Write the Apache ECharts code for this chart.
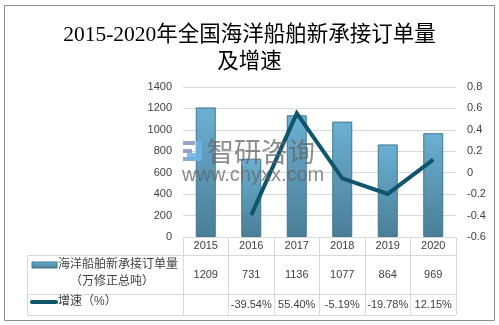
<!DOCTYPE html>
<html>
<head>
<meta charset="utf-8">
<script src="https://cdn.jsdelivr.net/npm/echarts@6/dist/echarts.min.js"></script>
<style>
  html, body { margin: 0; padding: 0; background: #fff; }
  #chart { width: 499px; height: 325px; }
</style>
</head>
<body>
<div id="chart"></div>
<script>
// Years shown along the category axis / table header
const years = ['2015', '2016', '2017', '2018', '2019', '2020'];
// New orders for sea-going vessels (10k CGT)
const orders = [1209, 731, 1136, 1077, 864, 969];
// Year-on-year growth in percent (none for the first year)
const growth = [null, -39.54, 55.40, -5.19, -19.78, 12.15];

const leftTicks = { min: 0, max: 1400, interval: 200 };
const rightTicks = { min: -0.6, max: 0.8, interval: 0.2 };

const titleText = '2015-2020年全国海洋船舶新承接订单量\n及增速';
const barName = '海洋船舶新承接订单量';
const barUnit = '（万修正总吨）';
const lineName = '增速（%）';

const gridColor = '#d9d9d9';
const textColor = '#404040';
const lineColor = '#0f566d';
const sans = '"Liberation Sans", "Noto Sans CJK SC", sans-serif';

const chart = echarts.init(document.getElementById('chart'), null, { renderer: 'canvas' });

const growthRatio = growth.map(v => (v == null ? null : v / 100));
const growthText = growth.map(v => (v == null ? '' : v.toFixed(2) + '%'));
const orderText = orders.map(v => String(v));

function rowAxis(labels, offset) {
  return {
    type: 'category',
    data: labels,
    position: 'bottom',
    offset: offset,
    axisLine: { show: false },
    axisTick: { show: false },
    axisLabel: {
      margin: 0, color: textColor, fontSize: 11, fontFamily: sans,
      lineHeight: 14, interval: 0
    }
  };
}

const barFill = () => new echarts.graphic.LinearGradient(0, 0, 0, 1, [
  { offset: 0, color: '#6bb0d3' },
  { offset: 1, color: '#4a7e96' }
]);

const option = {
  backgroundColor: '#fff',
  animation: false,
  title: {
    text: titleText,
    left: 'center',
    top: 17,
    textStyle: {
      fontFamily: '"Liberation Serif", "Noto Sans CJK SC", serif',
      fontSize: 21.5, fontWeight: 'normal', color: '#000', lineHeight: 27
    }
  },
  grid: { left: 183, right: 43, top: 87, bottom: 88 },
  xAxis: [
    {
      type: 'category',
      data: years,
      axisLine: { lineStyle: { color: gridColor } },
      axisTick: { show: true, length: 78, lineStyle: { color: gridColor } },
      axisLabel: { margin: 2, color: textColor, fontSize: 11, fontFamily: sans, lineHeight: 14 }
    },
    rowAxis(orderText, 30.5),
    rowAxis(growthText, 60.5)
  ],
  yAxis: [
    {
      type: 'value',
      min: leftTicks.min, max: leftTicks.max, interval: leftTicks.interval,
      axisLine: { show: false },
      axisTick: { show: false },
      splitLine: { lineStyle: { color: gridColor } },
      axisLabel: { margin: 11, color: textColor, fontSize: 11, fontFamily: sans,
                   formatter: v => String(v) }
    },
    {
      type: 'value',
      min: rightTicks.min, max: rightTicks.max, interval: rightTicks.interval,
      axisLine: { show: false },
      axisTick: { show: false },
      splitLine: { show: false },
      axisLabel: {
        margin: 11, color: textColor, fontSize: 11, fontFamily: sans,
        formatter: v => String(+v.toFixed(1))
      }
    }
  ],
  series: [
    {
      name: barName,
      type: 'bar',
      data: orders,
      barWidth: 20,
      itemStyle: { color: barFill(), borderColor: '#41768e', borderWidth: 1 }
    },
    {
      name: lineName,
      type: 'line',
      yAxisIndex: 1,
      data: growthRatio,
      showSymbol: false,
      symbol: 'none',
      lineStyle: { color: lineColor, width: 4, join: 'miter' },
      z: 5
    }
  ],
  graphic: [
    // outer frame
    { type: 'rect', shape: { x: 4.5, y: 5.5, width: 490, height: 315 },
      style: { fill: 'none', stroke: '#8c8c8c', lineWidth: 1 }, silent: true },
    // data table rules
    { type: 'line', shape: { x1: 27, y1: 255.5, x2: 456, y2: 255.5 }, style: { stroke: gridColor, lineWidth: 1 } },
    { type: 'line', shape: { x1: 27, y1: 294.5, x2: 456, y2: 294.5 }, style: { stroke: gridColor, lineWidth: 1 } },
    { type: 'line', shape: { x1: 27, y1: 315.5, x2: 456, y2: 315.5 }, style: { stroke: gridColor, lineWidth: 1 } },
    { type: 'line', shape: { x1: 27.5, y1: 255, x2: 27.5, y2: 316 }, style: { stroke: gridColor, lineWidth: 1 } },
    // table row keys
    { type: 'rect', shape: { x: 32, y: 262, width: 25, height: 6 },
      style: { fill: barFill(), stroke: '#41768e', lineWidth: 1 } },
    { type: 'line', shape: { x1: 32, y1: 302, x2: 56, y2: 302 },
      style: { stroke: lineColor, lineWidth: 4, lineCap: 'round' } },
    { type: 'text', x: 58, y: 265,
      style: { text: barName, fill: textColor, fontSize: 12, fontFamily: sans, verticalAlign: 'middle' } },
    { type: 'text', x: 112, y: 282,
      style: { text: barUnit, fill: textColor, fontSize: 12, fontFamily: sans,
               align: 'center', verticalAlign: 'middle' } },
    { type: 'text', x: 58, y: 302,
      style: { text: lineName, fill: textColor, fontSize: 12, fontFamily: sans, verticalAlign: 'middle' } },
    // watermark, drawn over the plot
    { type: 'rect', z: 100, silent: true, shape: { x: 183, y: 141, width: 12, height: 4 }, style: { fill: '#7f8fba', opacity: 0.8 } },
    { type: 'rect', z: 100, silent: true, shape: { x: 183, y: 149, width: 9, height: 4 }, style: { fill: '#7f8fba', opacity: 0.8 } },
    { type: 'rect', z: 100, silent: true, shape: { x: 183, y: 157, width: 12, height: 4 }, style: { fill: '#7f8fba', opacity: 0.8 } },
    { type: 'rect', z: 100, silent: true, shape: { x: 196, y: 141, width: 6, height: 20 }, style: { fill: '#6fb3e2', opacity: 0.85 } },
    { type: 'rect', z: 100, silent: true, shape: { x: 187, y: 153, width: 13, height: 8 }, style: { fill: '#6fb3e2', opacity: 0.85 } },
    { type: 'text', z: 100, silent: true, x: 207, y: 152,
      style: { text: '智研咨询', fill: '#666666', opacity: 0.75, fontSize: 27,
               fontFamily: '"Noto Sans CJK SC", sans-serif', verticalAlign: 'middle' } },
    { type: 'text', z: 100, silent: true, x: 182, y: 175,
      style: { text: 'www.chyxx.com', fill: '#666666', opacity: 0.75, fontSize: 20,
               fontFamily: sans, verticalAlign: 'middle' } }
  ]
};

chart.setOption(option);
</script>
</body>
</html>
